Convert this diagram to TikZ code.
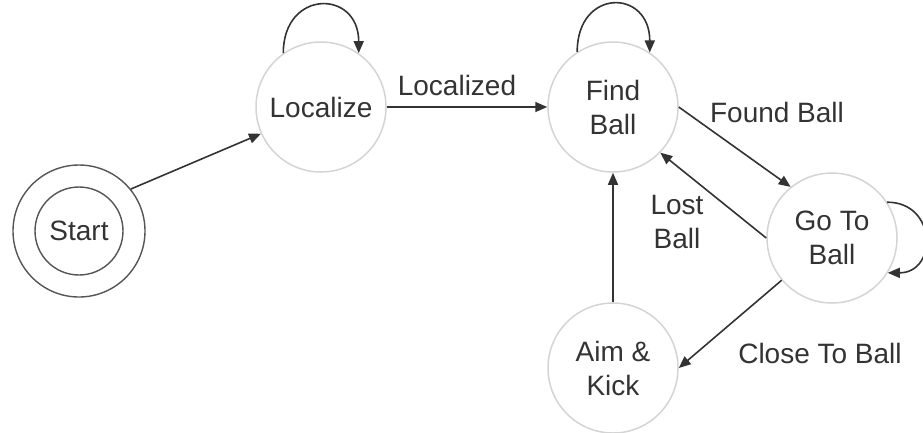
\documentclass[tikz,border=0pt]{standalone}
\usepackage{fontspec}
\setmainfont{Liberation Sans}
\usetikzlibrary{arrows.meta}
\definecolor{txt}{HTML}{333333}
\definecolor{ring}{HTML}{D4D4D4}
\definecolor{edgec}{HTML}{333333}
\definecolor{startring}{HTML}{555555}
\begin{document}
\begin{tikzpicture}[x=1pt,y=-1pt,
  state/.style={circle,draw=ring,line width=1.5pt,minimum size=130pt,inner sep=0pt,align=center,text=txt,font=\fontsize{28}{34}\selectfont},
  lbl/.style={text=txt,align=center,font=\fontsize{28}{34}\selectfont},
  conn/.style={draw=edgec,line width=1.6pt,-{Triangle[length=12pt,width=10pt]}}]
\useasboundingbox (0,0) rectangle (923,432);
\node[state,draw=startring,line width=1.4pt,minimum size=132pt] (start) at (79,231) {};
\node[state,draw=startring,line width=1.4pt,minimum size=88pt] (starti) at (79,231) {Start};
\node[state] (loc) at (321,107) {Localize};
\node[state] (find) at (613,107) {Find\\Ball};
\node[state] (go) at (832,238) {Go To\\Ball};
\node[state] (aim) at (613,368) {Aim \&\\Kick};
\draw[conn] (start.39) -- (loc.204);
\draw[conn] (loc.east) -- (find.west);
\draw[conn] (find.0) -- (go.129);
\draw[conn] (go.180) -- (find.316);
\draw[conn] (go.220) -- (aim.0);
\draw[conn] (aim.north) -- (find.south);
\draw[conn] (loc.125) .. controls +(0,-64) and +(0,-64) .. (loc.55);
\draw[conn] (find.123) .. controls +(0,-64) and +(0,-64) .. (find.56);
\draw[conn] (go.33) .. controls +(50,0) and +(50,0) .. (go.-32);
\node[lbl] (l1) at (457,85) {Localized};
\node[lbl] (l2) at (777,112) {Found Ball};
\node[lbl] (l3) at (677,222) {Lost\\Ball};
\node[lbl] (l4) at (820,353) {Close To Ball};
\end{tikzpicture}
\end{document}
